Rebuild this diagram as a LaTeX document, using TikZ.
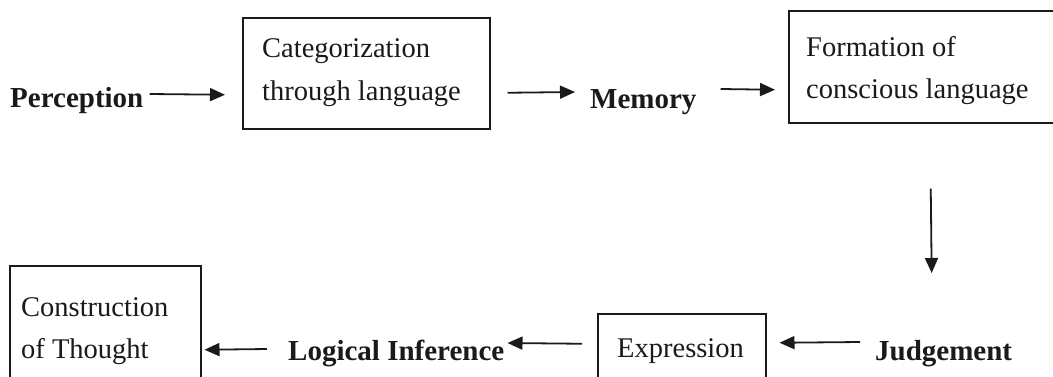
\documentclass[tikz,border=0pt]{standalone}
\usepackage{fontspec}
\setmainfont{Liberation Serif}
\usetikzlibrary{arrows.meta}
\definecolor{ink}{HTML}{1A1A1A}
\tikzset{
  boxnode/.style={draw=ink, line width=1.5pt, inner sep=0pt},
  plain/.style={inner sep=0pt, anchor=base west, text=ink, font=\fontsize{28.5}{43}\selectfont},
  boldlbl/.style={inner sep=0pt, anchor=base west, text=ink, text height=20pt, text depth=6pt, font=\fontsize{29}{43}\selectfont\bfseries},
  arr/.style={draw=ink, line width=1.8pt, -{Triangle[length=15pt,width=13pt]}}
}
\begin{document}
\begin{tikzpicture}[x=1pt,y=-1pt]
\useasboundingbox (0,0) rectangle (1053,376);
\clip (0,0) rectangle (1053,376);
% boxes
\node[boxnode, anchor=north west, minimum width=247pt, minimum height=111pt] (cat) at (242,17) {};
\node[boxnode, anchor=north west, minimum width=282pt, minimum height=112pt] (form) at (788,10) {};
\node[boxnode, anchor=north west, minimum width=191pt, minimum height=125pt] (cons) at (9,265) {};
\node[boxnode, anchor=north west, minimum width=168pt, minimum height=77pt] (expr) at (597,313) {};
% texts
\node[boldlbl] (perc) at (10,107) {Perception};
\node[plain] (cat1) at (262,57) {Categorization};
\node[plain] (cat2) at (262,100) {through language};
\node[boldlbl] (mem) at (590,108) {Memory};
\node[plain] (form1) at (806,56) {Formation of};
\node[plain] (form2) at (806,98) {conscious language};
\node[boldlbl] (judg) at (875,360) {Judgement};
\node[plain] (exprt) at (617,357) {Expression};
\node[boldlbl] (logi) at (288,360) {Logical Inference};
\node[plain] (cons1) at (21,316) {Construction};
\node[plain] (cons2) at (21,358) {of Thought};
% arrows
\draw[arr] ([xshift=6pt,yshift=6pt]perc.east) -- ([xshift=-17pt,yshift=-21.5pt]cat.west);
\draw[arr] ([xshift=17pt,yshift=-19.5pt]cat.east) -- ([xshift=-15pt,yshift=9pt]mem.west);
\draw[arr] ([xshift=24pt,yshift=12pt]mem.east) -- ([xshift=-13pt,yshift=-23pt]form.west);
\draw[arr] ([xshift=1pt,yshift=-65pt]form.south) -- ([xshift=-12pt,yshift=80pt]judg.center);
\draw[arr] ([xshift=-15pt,yshift=11pt]judg.west) -- ([xshift=13pt,yshift=9.5pt]expr.east);
\draw[arr] ([xshift=-15pt,yshift=8.5pt]expr.west) -- ([xshift=3pt,yshift=10pt]logi.east);
\draw[arr] ([xshift=-21pt,yshift=4pt]logi.west) -- ([xshift=3pt,yshift=-21.5pt]cons.east);
\end{tikzpicture}
\end{document}
